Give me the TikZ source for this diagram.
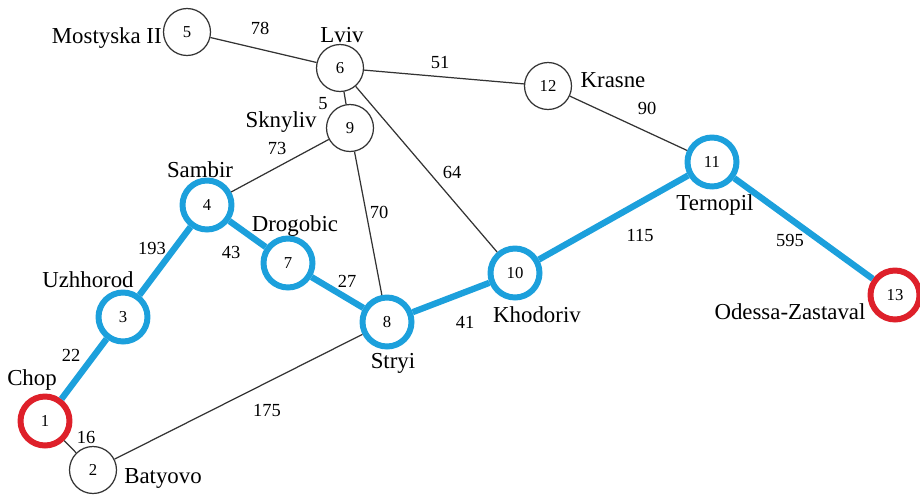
\documentclass[tikz,border=0pt]{standalone}
\usepackage{fontspec}
\setmainfont{LiberationSerif}[Extension=.ttf, UprightFont=*-Regular,
  BoldFont=*-Bold, ItalicFont=*-Italic, BoldItalicFont=*-BoldItalic]
\usetikzlibrary{positioning}
\definecolor{routeblue}{RGB}{28,160,220}
\definecolor{endred}{RGB}{222,32,42}

\begin{document}
\begin{tikzpicture}[
    x=0.02cm, y=-0.02cm,
    stop/.style={circle, draw=black!80, line width=0.7pt, fill=white,
                 minimum size=0.94cm, inner sep=0pt,
                 font=\rmfamily\fontsize{9.5}{10}\selectfont},
    onroute/.style={stop, draw=routeblue, line width=3.4pt, minimum size=0.98cm},
    terminal/.style={stop, draw=endred, line width=3.4pt, minimum size=0.98cm},
    city/.style={font=\rmfamily\fontsize{13}{14}\selectfont, inner sep=0pt},
    wt/.style={font=\rmfamily\fontsize{10.5}{12}\selectfont, inner sep=0pt},
    road/.style={draw=black!80, line width=0.7pt},
    best/.style={draw=routeblue, line width=3.6pt}
  ]
  \useasboundingbox (0,0) rectangle (920,494);

  % Stations
  \foreach \n/\x/\y/\s in {1/45/421/terminal, 2/93/470/stop, 3/123/317/onroute,
      4/207/205/onroute, 5/187/32/stop, 6/340/68/stop, 7/288/263/onroute,
      8/387/322/onroute, 9/350/128/stop, 10/515/273/onroute, 11/712/162/onroute,
      12/548/86/stop, 13/895/295/terminal} {
    \node[\s] (n\n) at (\x,\y) {\n};
  }

  % Station names
  \node[city] (chop) at (32,380) {Chop};
  \node[city] (batyovo) at (163,478) {Batyovo};
  \node[city] (uzhhorod) at (88,280) {Uzhhorod};
  \node[city] (sambir) at (200,170) {Sambir};
  \node[city, anchor=east] (mostyska) at (162,38) {Mostyska II};
  \node[city] (lviv) at (342,35) {Lviv};
  \node[city, anchor=east] (sknyliv) at (317,122) {Sknyliv};
  \node[city] (drogobic) at (295,226) {Drogobic};
  \node[city] (stryi) at (393,363) {Stryi};
  \node[city] (khodoriv) at (537,315) {Khodoriv};
  \node[city] (krasne) at (613,80) {Krasne};
  \node[city] (ternopil) at (715,205) {Ternopil};
  \node[city] (odessa) at (790,312) {Odessa-Zastaval};

  % Ordinary roads
  \draw[road] (n5) -- (n6);
  \draw[road] (n6) -- (n12);
  \draw[road] (n6) -- (n9);
  \draw[road] (n6) -- (n10);
  \draw[road] (n9) -- (n4);
  \draw[road] (n9) -- (n8);
  \draw[road] (n12) -- (n11);
  \draw[road] (n2) -- (n8);
  \draw[road] (n1) -- (n2);

  % Shortest route from 1 to 13
  \draw[best] (n1) -- (n3) -- (n4) -- (n7) -- (n8) -- (n10) -- (n11) -- (n13);

  % Distances
  \foreach \w/\x/\y [count=\i] in {78/260/28, 51/440/62, 5/323/104, 73/277/148,
      70/379/212, 64/452/172, 90/647/108, 193/152/248, 43/231/252, 27/347/281,
      41/465/322, 115/640/235, 595/790/240, 22/71/355, 16/86/437, 175/267/410} {
    \node[wt] (w\i) at (\x,\y) {\w};
  }
\end{tikzpicture}
\end{document}
